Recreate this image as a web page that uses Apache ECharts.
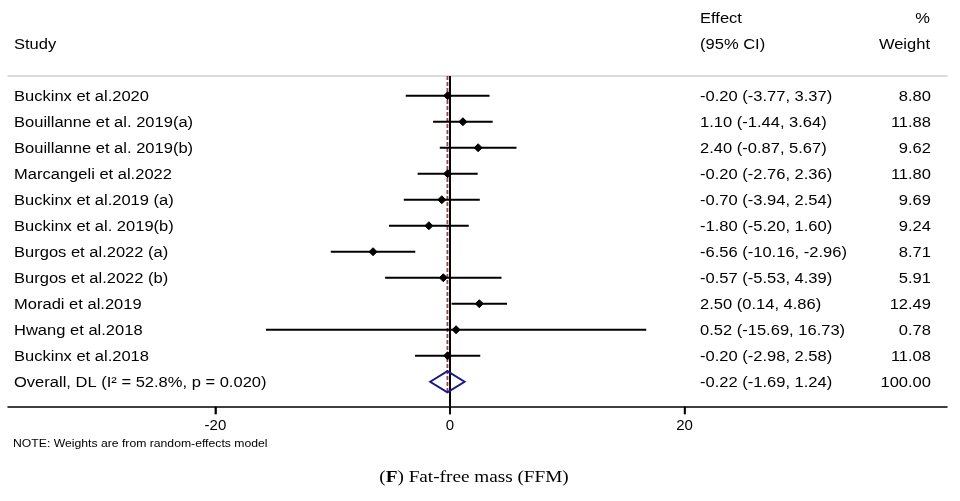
<!DOCTYPE html>
<html><head><meta charset="utf-8">
<script src="https://cdn.jsdelivr.net/npm/echarts@6/dist/echarts.min.js"></script>
<style>html,body{margin:0;padding:0;background:#fff}#c{width:960px;height:501px}</style>
</head><body><div id="c"></div>
<script>
// ---- data ----
const studies = ['Buckinx et al.2020', 'Bouillanne et al. 2019(a)', 'Bouillanne et al. 2019(b)', 'Marcangeli et al.2022', 'Buckinx et al.2019 (a)', 'Buckinx et al. 2019(b)', 'Burgos et al.2022 (a)', 'Burgos et al.2022 (b)', 'Moradi et al.2019', 'Hwang et al.2018', 'Buckinx et al.2018'];
const effects = [-0.20, 1.10, 2.40, -0.20, -0.70, -1.80, -6.56, -0.57, 2.50, 0.52, -0.20];
const lowerCI = [-3.77, -1.44, -0.87, -2.76, -3.94, -5.20, -10.16, -5.53, 0.14, -15.69, -2.98];
const upperCI = [3.37, 3.64, 5.67, 2.36, 2.54, 1.60, -2.96, 4.39, 4.86, 16.73, 2.58];
const weights = [8.80, 11.88, 9.62, 11.80, 9.69, 9.24, 8.71, 5.91, 12.49, 0.78, 11.08];
const overallLabel = 'Overall, DL (I² = 52.8%, p = 0.020)';
const overallEffect = -0.22;
const overallLower = -1.69;
const overallUpper = 1.24;
const overallWeight = 100.00;
const xTicks = [-20, 0, 20];
const note = 'NOTE: Weights are from random-effects model';

// ---- derived ----
const FONT = '"Liberation Sans", Arial, Helvetica, sans-serif';
const SX = 1.18;
const fmt = v => v.toFixed(2);
const overallRow = studies.length;
const rowLabels = studies.concat([overallLabel]);
const rowEffText = effects.map((e, i) => `${fmt(e)} (${fmt(lowerCI[i])}, ${fmt(upperCI[i])})`)
  .concat([`${fmt(overallEffect)} (${fmt(overallLower)}, ${fmt(overallUpper)})`]);
const rowWeightText = weights.map(fmt).concat([fmt(overallWeight)]);
const yMin = -0.76, yMax = 11.96;
const diamondHalf = 0.41;

function txt(text, x, y, size, align, sx) {
  return { type: 'text', x: x, y: y, scaleX: sx, style: { text: text, fill: '#000', fontSize: size, fontFamily: FONT, align: align, verticalAlign: 'middle' } };
}

const staticGraphics = [
  txt('Effect', 700, 19, 14, 'left', SX),
  txt('%', 930, 19, 14, 'right', SX),
  txt('Study', 14, 45, 14, 'left', SX),
  txt('(95% CI)', 700, 45, 14, 'left', SX),
  txt('Weight', 930, 45, 14, 'right', SX),
  txt(note, 13, 444, 10, 'left', 1.22),
  {
    type: 'text', x: 474, y: 478, scaleX: 1.2,
    style: {
      text: '({b|F}) Fat-free mass (FFM)', fill: '#000', fontSize: 16,
      fontFamily: '"Liberation Serif", "DejaVu Serif", serif', align: 'center', verticalAlign: 'middle',
      rich: { b: { fontWeight: 'bold', fontSize: 16, fontFamily: '"Liberation Serif", "DejaVu Serif", serif', fill: '#000' } }
    }
  }
];

const chart = echarts.init(document.getElementById('c'), null, { renderer: 'canvas' });
chart.setOption({
  animation: false,
  backgroundColor: '#fff',
  grid: { left: 8, right: 13, top: 76, bottom: 94.3 },
  xAxis: [{
    type: 'value', position: 'bottom', min: -37.68, max: 42.37,
    axisLine: { show: true, onZero: false, lineStyle: { color: '#000', width: 1.5 } },
    axisTick: { show: true, customValues: xTicks, length: 7.5, lineStyle: { color: '#000', width: 1.6 } },
    axisLabel: { show: true, customValues: xTicks, fontSize: 15, color: '#000', fontFamily: FONT, margin: 12 },
    splitLine: { show: false }
  }, {
    type: 'value', position: 'top', min: -37.68, max: 42.37,
    axisLine: { show: true, onZero: false, lineStyle: { color: '#cfcfcf', width: 1.5 } },
    axisTick: { show: false }, axisLabel: { show: false }, splitLine: { show: false }
  }],
  yAxis: { type: 'value', inverse: true, min: yMin, max: yMax, show: false, axisLine: { onZero: false } },
  graphic: staticGraphics,
  series: [
    {
      type: 'line', symbol: 'none', silent: true, z: 2,
      data: [[0, yMin], [0, yMax]],
      lineStyle: { color: '#000', width: 2 }
    },
    {
      type: 'line', symbol: 'none', silent: true, z: 3,
      data: [[overallEffect, yMin], [overallEffect, overallRow + diamondHalf]],
      lineStyle: { color: '#a0404a', width: 1.8, type: [4, 2] }
    },
    {
      type: 'custom', z: 4, clip: false,
      data: effects.map((e, i) => [e, i, lowerCI[i], upperCI[i]]),
      encode: { x: 0, y: 1 },
      renderItem: function (params, api) {
        const i = api.value(1);
        const p = api.coord([api.value(0), i]);
        const a = api.coord([api.value(2), i]);
        const b = api.coord([api.value(3), i]);
        const r = 4;
        return {
          type: 'group', children: [
            { type: 'line', shape: { x1: a[0], y1: a[1], x2: b[0], y2: b[1] }, style: { stroke: '#000', lineWidth: 1.8 } },
            { type: 'polygon', shape: { points: [[p[0] - r, p[1]], [p[0], p[1] - r], [p[0] + r, p[1]], [p[0], p[1] + r]] }, style: { fill: '#000', stroke: '#000', lineWidth: 1 } }
          ]
        };
      }
    },
    {
      type: 'custom', z: 5, clip: false,
      data: [[overallEffect, overallRow, overallLower, overallUpper]],
      encode: { x: 0, y: 1 },
      renderItem: function (params, api) {
        const row = api.value(1);
        const top = api.coord([api.value(0), row - diamondHalf]);
        const bot = api.coord([api.value(0), row + diamondHalf]);
        const l = api.coord([api.value(2), row]);
        const r = api.coord([api.value(3), row]);
        return { type: 'polygon', shape: { points: [l, top, r, bot] }, style: { fill: 'none', stroke: '#1a1a80', lineWidth: 2 } };
      }
    },
    {
      type: 'custom', z: 6, clip: false,
      data: rowLabels.map((s, i) => [0, i]),
      encode: { x: 0, y: 1 },
      renderItem: function (params, api) {
        const i = params.dataIndex;
        const y = api.coord([0, api.value(1)])[1] + 1;
        return {
          type: 'group', children: [
            txt(rowLabels[i], 14, y, 14, 'left', SX),
            txt(rowEffText[i], 700, y, 14, 'left', SX),
            txt(rowWeightText[i], 931, y, 14, 'right', SX)
          ]
        };
      }
    }
  ]
});

// axis ticks drawn at scale positions (library scale via convertToPixel)
const tickGraphics = xTicks.map(v => {
  const p = chart.convertToPixel({ xAxisIndex: 0, yAxisIndex: 0 }, [v, yMax]);
  return { type: 'line', z: 10, shape: { x1: p[0], y1: p[1], x2: p[0], y2: p[1] + 7.5 }, style: { stroke: '#000', lineWidth: 1.6 } };
});
chart.setOption({ graphic: staticGraphics.concat(tickGraphics) });
</script>
</body></html>
